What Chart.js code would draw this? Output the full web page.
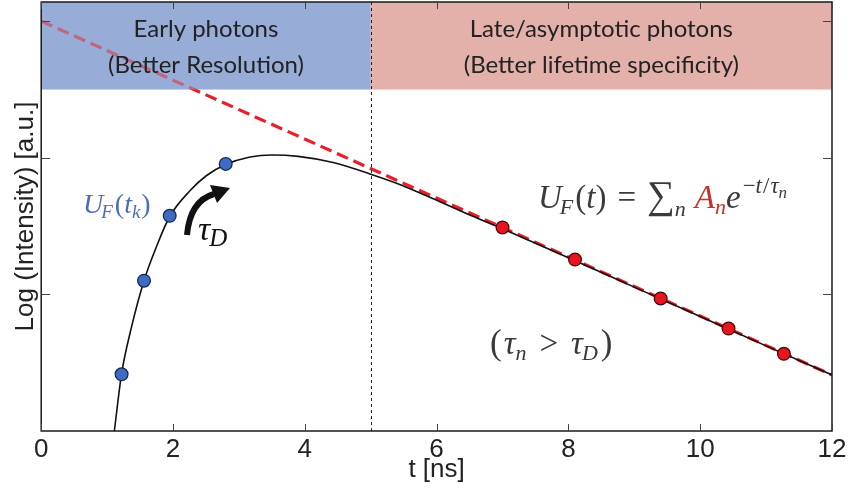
<!DOCTYPE html>
<html>
<head>
<meta charset="utf-8">
<script src="https://cdn.jsdelivr.net/npm/chart.js@4.4.1/dist/chart.umd.min.js"></script>
<style>
  html, body { margin: 0; padding: 0; background: #fff; }
  #wrap { position: relative; width: 853px; height: 498px; }
</style>
</head>
<body>
<div id="wrap"><canvas id="decayChart"></canvas></div>
<script>
// fluorescence decay, log scale (arbitrary units) vs time in ns
const curveT   = [1.11, 1.22, 1.37, 1.56, 1.75, 1.95, 2.26, 2.51, 2.80, 3.17, 3.50, 3.90, 4.43, 5.00, 5.44, 5.95, 6.46, 7.00, 8.00, 9.00, 10.0, 11.0, 12.0];
const curveLog = [0.00, 0.42, 0.76, 1.10, 1.35, 1.57, 1.76, 1.87, 1.95, 2.005, 2.02, 2.01, 1.965, 1.88, 1.805, 1.70, 1.59, 1.48, 1.268, 1.053, 0.838, 0.623, 0.41];

// early gates (rising edge) and late gates (asymptotic tail)
const earlyT   = [1.22, 1.56, 1.95, 2.80];
const earlyLog = [0.415, 1.10, 1.575, 1.955];
const lateT    = [7.00, 8.10, 9.40, 10.43, 11.27];
const lateLog  = [1.49, 1.255, 0.97, 0.75, 0.565];

// single-exponential asymptote
const asymT   = [0, 12];
const asymLog = [3.0, 0.41];

const xTicks   = [0, 2, 4, 6, 8, 10, 12];
const yTicks   = [1, 2, 3];
const gateT    = 5;      // early / late split
const bandFloor = 2.5;   // lower edge of the header bands
const yMax     = 3.14;

const bandTexts = [
  { from: 0, to: gateT, fill: 'rgb(151,172,214)', lines: ['Early photons', '(Better Resolution)'] },
  { from: gateT, to: 12, fill: 'rgb(227,177,170)', lines: ['Late/asymptotic photons', '(Better lifetime specificity)'] }
];

function toXY(xs, ys) {
  return xs.map((x, i) => ({ x: x, y: ys[i] }));
}

// draws a run of text pieces one after another (used for the math labels)
function drawRun(ctx, parts, x, y) {
  let cx = x;
  parts.forEach(p => {
    ctx.font = p.font;
    ctx.fillStyle = p.color;
    ctx.fillText(p.t, cx + (p.dx || 0), y + (p.dy || 0));
    cx += ctx.measureText(p.t).width + (p.dx || 0) + (p.gap || 0);
  });
  return cx;
}

const SERIF = '"Liberation Serif", "DejaVu Serif", serif';
const it = (s) => 'italic ' + s + 'px ' + SERIF;
const up = (s) => s + 'px ' + SERIF;

function fillBands(chart, alpha) {
  const ctx = chart.ctx;
  const a = chart.chartArea;
  const xs = chart.scales.x, ys = chart.scales.y;
  const yb = ys.getPixelForValue(bandFloor);
  ctx.save();
  ctx.globalAlpha = alpha;
  bandTexts.forEach(b => {
    const x0 = xs.getPixelForValue(b.from), x1 = xs.getPixelForValue(b.to);
    ctx.fillStyle = b.fill;
    ctx.fillRect(x0, a.top, x1 - x0, yb - a.top);
  });
  ctx.restore();
}

const overlay = {
  id: 'overlay',
  beforeDatasetsDraw(chart) {
    fillBands(chart, 1);
  },
  afterDatasetsDraw(chart) {
    const ctx = chart.ctx;
    const a = chart.chartArea;
    const xs = chart.scales.x, ys = chart.scales.y;

    // second, half-opaque pass so the asymptote shows faintly through the bands
    fillBands(chart, 0.5);

    ctx.save();
    bandTexts.forEach(b => {
      const x0 = xs.getPixelForValue(b.from), x1 = xs.getPixelForValue(b.to);
      ctx.fillStyle = '#222';
      ctx.font = '24px Lato, "Open Sans", sans-serif';
      ctx.textAlign = 'center';
      ctx.textBaseline = 'alphabetic';
      ctx.fillText(b.lines[0], (x0 + x1) / 2, a.top + 35);
      ctx.fillText(b.lines[1], (x0 + x1) / 2, a.top + 71);
    });
    ctx.textAlign = 'left';

    // gate separator
    const xg = xs.getPixelForValue(gateT);
    ctx.strokeStyle = '#222';
    ctx.lineWidth = 1;
    ctx.setLineDash([3, 3]);
    ctx.beginPath();
    ctx.moveTo(Math.round(xg) + 0.5, a.top);
    ctx.lineTo(Math.round(xg) + 0.5, a.bottom);
    ctx.stroke();
    ctx.setLineDash([]);

    // frame
    ctx.strokeStyle = '#1a1a1a';
    ctx.lineWidth = 1.5;
    ctx.strokeRect(a.left, a.top, a.right - a.left, a.bottom - a.top);

    // inward tick marks on all four sides
    ctx.strokeStyle = '#444';
    ctx.lineWidth = 1;
    ctx.beginPath();
    xTicks.forEach(v => {
      const px = Math.round(xs.getPixelForValue(v)) + 0.5;
      ctx.moveTo(px, a.bottom); ctx.lineTo(px, a.bottom - 7);
      ctx.moveTo(px, a.top); ctx.lineTo(px, a.top + 7);
    });
    yTicks.forEach(v => {
      const py = Math.round(ys.getPixelForValue(v)) + 0.5;
      ctx.moveTo(a.left, py); ctx.lineTo(a.left + 9, py);
      ctx.moveTo(a.right, py); ctx.lineTo(a.right - 9, py);
    });
    ctx.stroke();

    // U_F(t_k) next to the early gates
    const blue = '#4a6cc0';
    drawRun(ctx, [
      { t: 'U', font: it(28), color: blue },
      { t: 'F', font: it(19), color: blue, dy: 5, dx: -2, gap: 1 },
      { t: '(', font: up(28), color: blue, dx: 1 },
      { t: 't', font: it(28), color: blue },
      { t: 'k', font: it(19), color: blue, dy: 5, gap: 1 },
      { t: ')', font: up(28), color: blue }
    ], 83, 213);

    // curved arrow with tau_D
    ctx.strokeStyle = '#111';
    ctx.fillStyle = '#111';
    ctx.lineWidth = 6;
    ctx.lineCap = 'butt';
    ctx.beginPath();
    ctx.moveTo(187, 235);
    ctx.quadraticCurveTo(190, 201, 214, 194);
    ctx.stroke();
    ctx.beginPath();
    ctx.moveTo(230, 188);
    ctx.lineTo(217, 203);
    ctx.lineTo(210, 185);
    ctx.closePath();
    ctx.fill();
    drawRun(ctx, [
      { t: 'τ', font: it(34), color: '#111' },
      { t: 'D', font: it(25), color: '#111', dy: 6, dx: -1 }
    ], 198, 240);

    // decay model
    const grey = '#3a3a3a', red = '#c8302a';
    drawRun(ctx, [
      { t: 'U', font: it(33), color: grey },
      { t: 'F', font: it(22), color: grey, dy: 6, dx: -2, gap: 1 },
      { t: '(', font: up(33), color: grey, dx: 1 },
      { t: 't', font: it(33), color: grey },
      { t: ')', font: up(33), color: grey, gap: 11 },
      { t: '=', font: up(33), color: grey, gap: 11 },
      { t: '∑', font: up(39), color: grey },
      { t: 'n', font: it(22), color: grey, dy: 8, gap: 9 },
      { t: 'A', font: it(33), color: red },
      { t: 'n', font: it(22), color: red, dy: 6 },
      { t: 'e', font: it(33), color: grey, gap: 1 },
      { t: '−', font: up(23), color: grey, dy: -15, dx: 1 },
      { t: 't', font: it(23), color: grey, dy: -15, gap: 1 },
      { t: '/', font: up(23), color: grey, dy: -15, gap: 1 },
      { t: 'τ', font: it(23), color: grey, dy: -15 },
      { t: 'n', font: it(17), color: grey, dy: -10 }
    ], 538, 208);

    drawRun(ctx, [
      { t: '(', font: up(35), color: grey, gap: 2 },
      { t: 'τ', font: it(33), color: grey },
      { t: 'n', font: it(22), color: grey, dy: 6, gap: 13 },
      { t: '>', font: up(33), color: grey, gap: 13 },
      { t: 'τ', font: it(33), color: grey },
      { t: 'D', font: it(22), color: grey, dy: 6, dx: -1, gap: 3 },
      { t: ')', font: up(35), color: grey }
    ], 490, 354);

    ctx.restore();
  }
};

new Chart(document.getElementById('decayChart'), {
  type: 'scatter',
  data: {
    datasets: [
      {
        label: 'late gates',
        data: toXY(lateT, lateLog),
        backgroundColor: '#e8141e',
        borderColor: '#3a0a0a',
        borderWidth: 1.2,
        pointRadius: 6.4,
        order: 0
      },
      {
        label: 'early gates',
        data: toXY(earlyT, earlyLog),
        backgroundColor: '#3e6cc4',
        borderColor: '#14254a',
        borderWidth: 1.2,
        pointRadius: 6.4,
        order: 0
      },
      {
        label: 'U_F(t)',
        data: toXY(curveT, curveLog),
        showLine: true,
        borderColor: '#111',
        borderWidth: 1.6,
        pointRadius: 0,
        cubicInterpolationMode: 'monotone',
        order: 1
      },
      {
        label: 'asymptote',
        data: toXY(asymT, asymLog),
        showLine: true,
        borderColor: '#e8202a',
        borderWidth: 3.2,
        borderDash: [12, 6],
        pointRadius: 0,
        order: 2
      }
    ]
  },
  options: {
    responsive: true,
    maintainAspectRatio: false,
    animation: false,
    layout: { autoPadding: false, padding: { left: 10, right: 21, top: 2, bottom: 0 } },
    plugins: {
      legend: { display: false },
      tooltip: { enabled: false }
    },
    scales: {
      x: {
        type: 'linear',
        min: 0,
        max: 12,
        border: { display: false },
        grid: { display: false, drawTicks: false },
        afterFit(scale) { scale.height = 67; },
        ticks: {
          stepSize: 2,
          padding: 3,
          color: '#222',
          font: { family: '"Liberation Sans", Arial, sans-serif', size: 26 }
        },
        title: {
          display: true,
          text: 't [ns]',
          color: '#222',
          padding: { top: 0, bottom: 13 },
          font: { family: '"Liberation Sans", Arial, sans-serif', size: 26 }
        }
      },
      y: {
        min: 0,
        max: yMax,
        border: { display: false },
        grid: { display: false, drawTicks: false },
        ticks: { display: false },
        title: {
          display: true,
          text: 'Log (Intensity) [a.u.]',
          color: '#222',
          padding: { top: 0, bottom: 0 },
          font: { family: '"Liberation Sans", Arial, sans-serif', size: 26 }
        }
      }
    }
  },
  plugins: [overlay]
});
</script>
</body>
</html>
